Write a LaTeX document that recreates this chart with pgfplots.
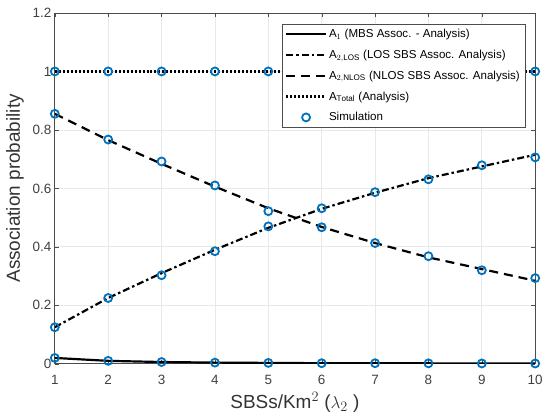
\documentclass[border=0pt]{standalone}
\usepackage{pgfplots}
\pgfplotsset{compat=1.18}
\usepackage{fontspec}
\setmainfont{Liberation Sans}
\definecolor{mblue}{RGB}{0,114,189}
\begin{document}
\begin{tikzpicture}
\begin{axis}[
  scale only axis, width=482pt, height=352pt,
  xmin=1, xmax=10, ymin=0, ymax=1.2,
  xtick={1,...,10}, ytick={0,0.2,...,1.2},
  yticklabels={0,0.2,0.4,0.6,0.8,1,1.2},
  /pgf/number format/assume math mode=true,
  tick label style={font=\fontsize{13.5}{15}\selectfont, color=black!75},
  xticklabel style={yshift=-8pt},
  yticklabel style={xshift=0pt},
  grid=major, grid style={gray!18, line width=0.7pt},
  axis line style={black!70, line width=0.7pt},
  tick align=inside, major tick length=4pt,
  tick style={black!70},
  xlabel={SBSs/Km$^2$ ($\lambda_2$ )},
  ylabel={Association probability},
  label style={font=\fontsize{19}{22}\selectfont, color=black!80},
  xlabel style={yshift=-1pt},
  ylabel style={yshift=2pt},
  legend style={at={(0.979,0.969)}, anchor=north east, font=\fontsize{11.6}{13.5}\selectfont,
    draw=black!70, line width=0.6pt, row sep=7pt, inner sep=3pt,
    legend cell align=left, nodes={inner xsep=2pt}},
  legend image code/.code={\draw[mark repeat=2,mark phase=2] plot coordinates {(0cm,0cm) (0.7cm,0cm) (1.4cm,0cm)};},
  after end axis/.code={\path (rel axis cs:0,1) ++(-55pt,13pt);},
]
\addplot[black, line width=2.2pt] coordinates {(1,0.020)(2,0.010)(3,0.006)(4,0.004)(5,0.003)(6,0.002)(7,0.002)(8,0.0015)(9,0.0012)(10,0.001)};
\addlegendentry{A$_1$ (MBS Assoc. - Analysis)}
\addplot[black, line width=2.2pt, dash pattern=on 7pt off 3pt on 2.5pt off 3pt] coordinates {(1,0.125)(2,0.225)(3,0.310)(4,0.390)(5,0.465)(6,0.530)(7,0.585)(8,0.635)(9,0.675)(10,0.715)};
\addlegendentry{A$_{2,\mathrm{LOS}}$ (LOS SBS Assoc. Analysis)}
\addplot[black, line width=2.2pt, dash pattern=on 9pt off 6pt] coordinates {(1,0.855)(2,0.765)(3,0.684)(4,0.606)(5,0.532)(6,0.468)(7,0.413)(8,0.364)(9,0.324)(10,0.284)};
\addlegendentry{A$_{2,\mathrm{NLOS}}$ (NLOS SBS Assoc. Analysis)}
\addplot[black, line width=2.2pt, dash pattern=on 2pt off 2pt] coordinates {(1,1)(2,1)(3,1)(4,1)(5,1)(6,1)(7,1)(8,1)(9,1)(10,1)};
\addlegendentry{A$_{\mathrm{Total}}$ (Analysis)}
\addplot[only marks, mark=o, mark size=4pt, mblue, line width=1.8pt] coordinates {(1,0.020)(2,0.010)(3,0.006)(4,0.004)(5,0.003)(6,0.002)(7,0.002)(8,0.0015)(9,0.0012)(10,0.001)};
\addlegendentry{Simulation}
\addplot[only marks, mark=o, mark size=4pt, mblue, line width=1.8pt, forget plot] coordinates {(1,0.125)(2,0.225)(3,0.303)(4,0.385)(5,0.470)(6,0.532)(7,0.587)(8,0.631)(9,0.679)(10,0.706)};
\addplot[only marks, mark=o, mark size=4pt, mblue, line width=1.8pt, forget plot] coordinates {(1,0.855)(2,0.767)(3,0.692)(4,0.610)(5,0.522)(6,0.467)(7,0.413)(8,0.368)(9,0.320)(10,0.293)};
\addplot[only marks, mark=o, mark size=4pt, mblue, line width=1.8pt, forget plot] coordinates {(1,1)(2,1)(3,1)(4,1)(5,1)(6,1)(7,1)(8,1)(9,1)(10,1)};
\end{axis}
\end{tikzpicture}
\end{document}
